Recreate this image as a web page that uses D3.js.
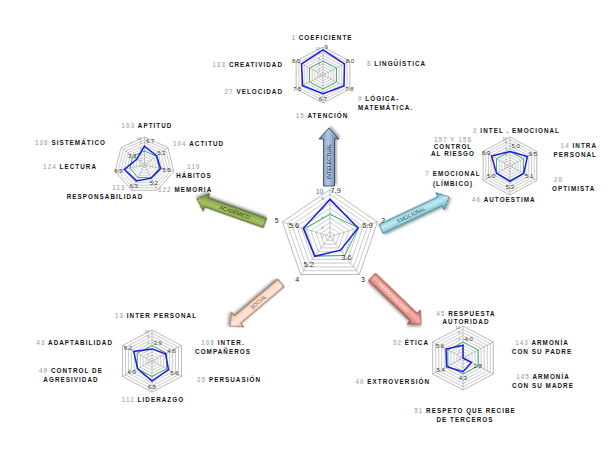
<!DOCTYPE html>
<html><head><meta charset="utf-8">
<script src="https://cdn.jsdelivr.net/npm/d3@7"></script>
<style>body{margin:0;background:#fff}svg{display:block}</style>
</head><body>
<svg id="chart" width="608" height="472"></svg>
<script>
// ---------------- DATA ----------------
const centralAxes = ["1","2","3","4","5"];
const centralValues = ["7.9","5.9","3.6","5.2","5.6"];
const centralReference = [4.7, 6.0, 5.0, 5.2, 5.4];

const intelAxes = ["COEFICIENTE","LINGÜÍSTICA","LÓGICA-|MATEMÁTICA.","ATENCIÓN","VELOCIDAD","CREATIVIDAD"];
const intelCodes = ["1","8","9","15","27","123"];
const intelValues = ["9","8.0","7.8","6.7","7.6","8.0"];
const intelReference = [5,5,5,5,5,5];

const academicAxes = ["APTITUD","ACTITUD","HÁBITOS","MEMORIA","RESPONSABILIDAD","LECTURA","SISTEMÁTICO"];
const academicCodes = ["103","104","110","122","113","124","138"];
const academicValues = ["6.7","5.2","5.5","5.2","6.3","6.9","3.3"];
const academicReference = [5,5,5,5,5,5,5];

const emotionalAxes = ["INTEL . EMOCIONAL","INTRA|PERSONAL","OPTIMISTA","AUTOESTIMA","EMOCIONAL|(LÍMBICO)","CONTROL|AL RIESGO"];
const emotionalCodes = ["2","14","28","46","7","157 Y 158"];
const emotionalValues = ["5.0","6.5","5.1","5.3","5.0","6.9"];
const emotionalReference = [5,5,5,5,5,5];

const socialAxes = ["INTER PERSONAL","INTER.|COMPAÑEROS","PERSUASIÓN","LIDERAZGO","CONTROL DE|AGRESIVIDAD","ADAPTABILIDAD"];
const socialCodes = ["13","108","25","111","49","43"];
const socialValues = ["3.9","4.6","5.6","6.5","4.9","6.2"];
const socialReference = [5,5,5,5,5,5];

const personalityAxes = ["RESPUESTA|AUTORIDAD","ARMONÍA|CON SU PADRE","ARMONÍA|CON SU MADRE","RESPETO QUE RECIBE|DE TERCEROS","EXTROVERSIÓN","ÉTICA"];
const personalityCodes = ["45","143","145","51","40","52"];
const personalityValues = ["4.0","0","2.8","4.3","5.4","5.6"];
const personalityReference = [5,5,5,5,5,5];

const arrowNames = ["INTELECTUAL","EMOCIONAL","PERSONALIDAD","SOCIAL","ACADÉMICO"];
const ringLevels = [1,2,3,4,5,6,7,8,9,10];
const scaleTicks = [0,2,4,6,8,10];

// ---------------- LAYOUT ----------------
const svg = d3.select("#chart");
const defs = svg.append("defs");
const f = defs.append("filter").attr("id","shadow").attr("x","-30%").attr("y","-30%").attr("width","160%").attr("height","160%");
f.append("feDropShadow").attr("dx",1.5).attr("dy",1.8).attr("stdDeviation",1.2).attr("flood-color","#000").attr("flood-opacity",0.35);

const r = d3.scaleLinear().domain([0,10]).range([0,1]);
const FONT = "'Liberation Sans', Arial, sans-serif";

function drawRadar(cfg, axes, codes, values, reference) {
  const g = svg.append("g");
  const n = axes.length;
  const [cx, cy] = cfg.center;
  const ang = i => i * 2 * Math.PI / n;
  const pt = (i, v) => [cx + cfg.rx * r(v) * Math.sin(ang(i)), cy - cfg.ry * r(v) * Math.cos(ang(i))];
  const closed = d3.line().curve(d3.curveLinearClosed);
  // rings
  ringLevels.forEach(t => {
    g.append("path").attr("d", closed(d3.range(n).map(i => pt(i, t))))
      .attr("fill","none").attr("stroke", t === 10 ? "#8c8c8c" : "#a8a8a8").attr("stroke-width", 0.6);
  });
  // spokes
  d3.range(n).forEach(i => {
    const [x, y] = pt(i, 10);
    g.append("line").attr("x1",cx).attr("y1",cy).attr("x2",x).attr("y2",y).attr("stroke","#a0a0a0").attr("stroke-width",0.6);
  });
  // scale tick labels along first axis
  scaleTicks.forEach(t => {
    const [x, y] = pt(0, t);
    g.append("text").attr("x", x - cfg.tickDx).attr("y", y + (t === 10 ? cfg.tickTopDy : 1.5)).attr("text-anchor","end")
      .attr("font-family", FONT).attr("font-size", t === 10 ? cfg.tickTop : cfg.tick)
      .attr("fill", t === 0 ? "#999" : "#4f79b0").text(t);
  });
  // series
  g.append("path").attr("d", closed(reference.map((v,i) => pt(i, v))))
    .attr("fill","none").attr("stroke","#3fae6e").attr("stroke-width",1);
  g.append("path").attr("d", closed(values.map((v,i) => pt(i, +v))))
    .attr("fill","none").attr("stroke","#1c1ce6").attr("stroke-width",1.5);
  // value labels
  values.forEach((v, i) => {
    if (+v === 0) return;
    const [x, y] = pt(i, Math.min(+v + 2, 10.2));
    g.append("text").attr("x", x + (i === 0 ? cfg.topValueDx : 0)).attr("y", y).attr("dy","0.35em")
      .attr("text-anchor", i === 0 ? "start" : "middle")
      .attr("font-family", FONT).attr("font-size", cfg.valueSize).attr("fill","#3a3a3a").text(v);
  });
  // axis labels
  axes.forEach((name, i) => {
    if (!codes) {
      const [x, y] = pt(i, 10);
      const a = ang(i);
      g.append("text").attr("x", x + Math.sin(a) * 6).attr("y", y - Math.cos(a) * 6).attr("dy","0.35em")
        .attr("text-anchor","middle").attr("font-family", FONT).attr("font-size", 7).attr("fill","#222").text(name);
      return;
    }
    const L = cfg.labels[i];
    const lines = name.split("|");
    const lh = L.lh || 8.6;
    const mk = (y, x) => g.append("text").attr("x", x).attr("y", y).attr("text-anchor", L.a)
      .attr("font-family", FONT).attr("font-size", cfg.labelSize).attr("font-weight","bold")
      .attr("letter-spacing", cfg.spacing);
    if (L.codeLine) {
      mk(L.y, L.x + (L.codeDx || 0)).append("tspan").attr("fill","#b5b5b5").text(codes[i]);
      lines.forEach((ln, k) => mk(L.y + lh * (k + 1), L.x).attr("fill","#151515").text(ln));
    } else {
      const t = mk(L.y, L.x);
      t.append("tspan").attr("fill","#b5b5b5").text(codes[i] + " ");
      t.append("tspan").attr("fill","#151515").text(lines[0]);
      lines.slice(1).forEach((ln, k) => mk(L.y + lh * (k + 1), L.x).attr("fill","#151515").text(ln));
    }
  });
}

const subStyle = {labelSize: 6.3, spacing: 1.05, valueSize: 6, tick: 3.2, tickTop: 4, tickDx: 3, tickTopDy: 2.5, topValueDx: 1.5};

drawRadar({center:[330,236.5], rx:50, ry:47, valueSize:7.5, tick:4.2, tickTop:7, tickDx:6.5, tickTopDy:4, topValueDx:0.5, labels:[], labelSize:7, spacing:0},
  centralAxes, null, centralValues, centralReference);

drawRadar(Object.assign({center:[323,75], rx:31, ry:28, labels:[
  {x:322,y:40,a:"middle"},{x:367,y:66,a:"start"},{x:358,y:101,a:"start"},
  {x:322,y:118,a:"middle"},{x:283,y:94,a:"end"},{x:283,y:67,a:"end"}]}, subStyle),
  intelAxes, intelCodes, intelValues, intelReference);

drawRadar(Object.assign({center:[144.5,165], rx:30, ry:28, labels:[
  {x:147,y:128,a:"middle"},{x:173,y:146,a:"start"},{x:194,y:169,a:"middle",codeLine:true},
  {x:158,y:192,a:"start"},{x:105,y:190,a:"middle",codeLine:true,codeDx:14},
  {x:97,y:169,a:"end"},{x:106,y:145,a:"end"}]}, subStyle),
  academicAxes, academicCodes, academicValues, academicReference);

drawRadar(Object.assign({center:[510,166], rx:31, ry:29, labels:[
  {x:473,y:133,a:"start"},{x:597,y:148,a:"end"},{x:552,y:182,a:"start",codeLine:true,codeDx:2},
  {x:472,y:202,a:"start"},{x:453,y:176,a:"middle",lh:9.5},{x:453,y:142,a:"middle",codeLine:true,lh:7}]}, subStyle),
  emotionalAxes, emotionalCodes, emotionalValues, emotionalReference);

drawRadar(Object.assign({center:[152,361], rx:34, ry:31, labels:[
  {x:156,y:318,a:"middle"},{x:223,y:345,a:"middle"},{x:197,y:382,a:"start"},
  {x:153,y:402,a:"middle"},{x:71,y:373,a:"middle"},{x:113,y:345,a:"end"}]}, subStyle),
  socialAxes, socialCodes, socialValues, socialReference);

drawRadar(Object.assign({center:[463,358], rx:35, ry:32, labels:[
  {x:466,y:315.5,a:"middle",lh:8.2},{x:542,y:345,a:"middle"},{x:543,y:379,a:"middle"},
  {x:465,y:413,a:"middle"},{x:430,y:384,a:"end"},{x:429,y:345,a:"end"}]}, subStyle),
  personalityAxes, personalityCodes, personalityValues, personalityReference);

// ---------------- ARROWS ----------------
const arrowStyles = [
  {tail:[329,186], tip:[329,128], bw:11, hw:20, hl:11, c:["#5a7aa5","#b4c8e2","#5a7aa5"], stroke:"#2e3d52", text:"#1d2d48"},
  {tail:[381,229], tip:[449,197], bw:10, hw:19, hl:10, c:["#3f9fb8","#c4ecf3","#4aa6be"], stroke:"#2d6676", text:"#1b5363"},
  {tail:[372,277], tip:[421,324], bw:10, hw:19, hl:10, c:["#c8554b","#f3b3aa","#c8554b"], stroke:"#6e2b24", text:"#fbe7e3"},
  {tail:[281,283], tip:[230,326], bw:10, hw:19, hl:10, c:["#eab795","#fde9da","#eab795"], stroke:"#5a4332", text:"#6b4a33"},
  {tail:[265,223], tip:[197,199], bw:10, hw:19, hl:10, c:["#5f7f27","#a9c467","#5f7f27"], stroke:"#34441a", text:"#1d2a0c"}
];
arrowNames.forEach((name, i) => {
  const s = arrowStyles[i];
  const dx = s.tip[0] - s.tail[0], dy = s.tip[1] - s.tail[1];
  const L = Math.hypot(dx, dy), angle = Math.atan2(dy, dx) * 180 / Math.PI;
  const gid = "ag" + i;
  const gr = defs.append("linearGradient").attr("id", gid).attr("x1",0).attr("y1",0).attr("x2",0).attr("y2",1);
  gr.append("stop").attr("offset","0%").attr("stop-color", s.c[0]);
  gr.append("stop").attr("offset","45%").attr("stop-color", s.c[1]);
  gr.append("stop").attr("offset","100%").attr("stop-color", s.c[2]);
  const g = svg.append("g").attr("transform", `translate(${s.tail[0]},${s.tail[1]}) rotate(${angle})`);
  const pts = [[0,-s.bw/2],[L-s.hl,-s.bw/2],[L-s.hl,-s.hw/2],[L,0],[L-s.hl,s.hw/2],[L-s.hl,s.bw/2],[0,s.bw/2]];
  g.append("path").attr("d", d3.line().curve(d3.curveLinearClosed)(pts))
    .attr("fill", `url(#${gid})`).attr("stroke", s.stroke).attr("stroke-width", 0.8).attr("filter","url(#shadow)");
  const flip = Math.abs(angle) > 90;
  g.append("text").attr("transform", `translate(${(L - s.hl) / 2 + 1},0) rotate(${flip ? 180 : 0})`)
    .attr("text-anchor","middle").attr("dy","0.35em").attr("font-family", FONT).attr("font-size", 5.2)
    .attr("fill", s.text).text(name);
});
</script>
</body></html>
